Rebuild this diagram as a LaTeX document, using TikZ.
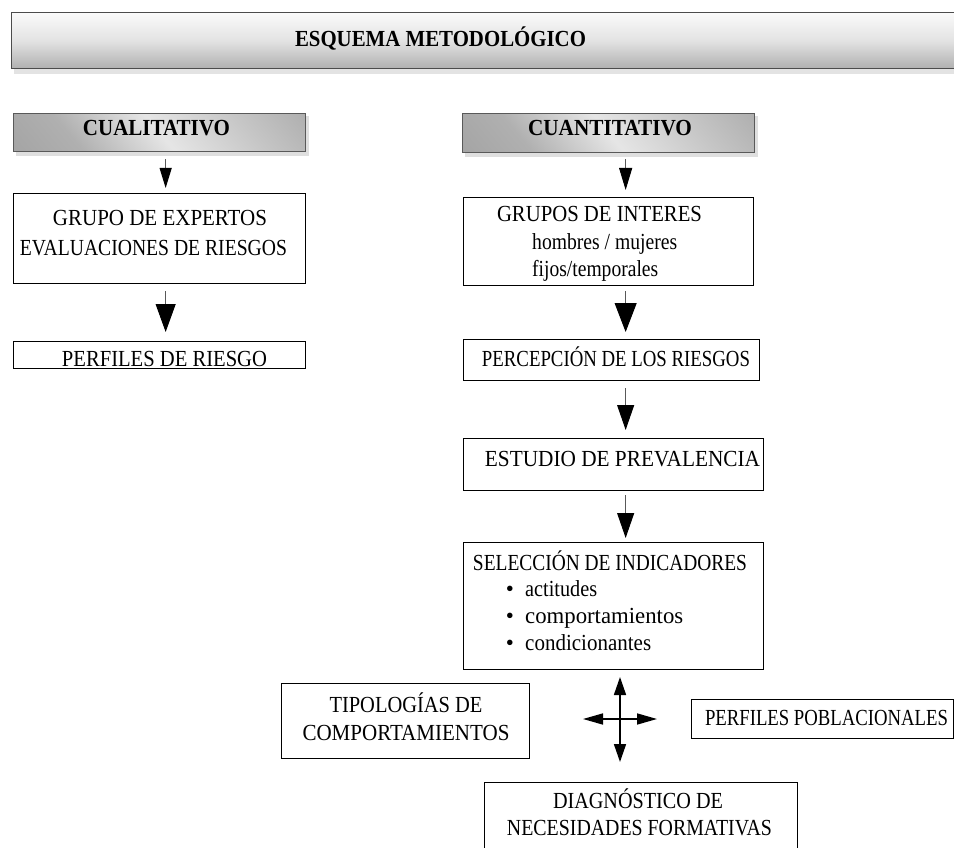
\documentclass[tikz,border=0pt]{standalone}
\usepackage{fontspec}
\setmainfont{Liberation Serif}
\usepackage{graphicx}
\usetikzlibrary{arrows.meta}
\pgfdeclarehorizontalshading{cbox}{100bp}{color(0bp)=(gray!80); color(30bp)=(gray!62); color(50bp)=(gray!20); color(70bp)=(gray!45); color(100bp)=(gray!80)}
\newcommand{\fitw}[2]{\resizebox{#1pt}{\height}{#2}}
\tikzset{
 bx/.style={draw=black, line width=1.3pt, inner sep=0pt, anchor=north west},
 hd/.style={draw=gray!70!black, line width=1.3pt, inner sep=0pt, anchor=north west, shading=cbox, shading angle=40},
 txt/.style={inner sep=0pt, anchor=base, font=\fontsize{23}{27}\selectfont},
 btxt/.style={inner sep=0pt, anchor=base, font=\fontsize{23}{27}\selectfont\bfseries},
 arr/.style={draw=black!65, line width=1pt},
 crs/.style={draw=black, line width=1.6pt},
 shd/.style={fill=gray!25, draw=none},
}
\begin{document}
\begin{tikzpicture}[x=1pt,y=-1pt]
\useasboundingbox (0,0) rectangle (954,848);
% title bar
\fill[gray!22] (14,68) rectangle (975,74);
\node[draw=gray!60!black, line width=1.3pt, inner sep=0pt, anchor=north west,
      top color=gray!4, bottom color=gray!62, middle color=gray!22,
      minimum width=960pt, minimum height=56pt] (bar) at (11,12) {};
\node[btxt] (ttl) at (440.5,46.5) {\fitw{291}{ESQUEMA METODOLÓGICO}};
% headers
\fill[shd] (16,116) rectangle (309,156);
\fill[shd] (465,116) rectangle (758,157);
\node[hd, minimum width=292pt, minimum height=38pt] (cual) at (13,113) {};
\node[hd, minimum width=292pt, minimum height=39pt] (cuan) at (462,113) {};
\node[btxt] (tcual) at (156.5,136) {\fitw{147}{CUALITATIVO}};
\node[btxt] (tcuan) at (610,136) {\fitw{164}{CUANTITATIVO}};
% left column
\node[bx, minimum width=292pt, minimum height=90pt] (exp) at (13,193) {};
\node[txt] (e1) at (160,225.5) {\fitw{214}{GRUPO DE EXPERTOS}};
\node[txt] (e2) at (153.5,255) {\fitw{267}{EVALUACIONES DE RIESGOS}};
\node[bx, minimum width=292pt, minimum height=27pt] (perf) at (13,341) {};
\node[txt] (p1) at (164.5,366) {\fitw{205}{PERFILES DE RIESGO}};
% right column
\node[bx, minimum width=290pt, minimum height=88pt] (grp) at (463,197) {};
\node[txt] (g1) at (599.5,221.5) {\fitw{205}{GRUPOS DE INTERES}};
\node[txt, anchor=base west] (g2) at (532,249) {\fitw{145}{hombres / mujeres}};
\node[txt, anchor=base west] (g3) at (532,276) {\fitw{126}{fijos/temporales}};
\node[bx, minimum width=296pt, minimum height=41pt] (perc) at (463,339) {};
\node[txt] (pc1) at (616,366) {\fitw{268}{PERCEPCIÓN DE LOS RIESGOS}};
\node[bx, minimum width=300pt, minimum height=52pt] (est) at (463,438) {};
\node[txt] (es1) at (622.5,466) {\fitw{275}{ESTUDIO DE PREVALENCIA}};
\node[bx, minimum width=300pt, minimum height=127pt] (sel) at (463,542) {};
\node[txt] (s1) at (610,570) {\fitw{274}{SELECCIÓN DE INDICADORES}};
\node[txt] (b1) at (510,596.7) {•};
\node[txt] (b2) at (510,623) {•};
\node[txt] (b3) at (510,650) {•};
\node[txt, anchor=base west] (s2) at (525,596.7) {\fitw{72}{actitudes}};
\node[txt, anchor=base west] (s3) at (525,623) {\fitw{158}{comportamientos}};
\node[txt, anchor=base west] (s4) at (525,650) {\fitw{126}{condicionantes}};
% bottom
\node[bx, minimum width=248pt, minimum height=75pt] (tip) at (281,683) {};
\node[txt] (t1) at (406,712.5) {\fitw{153}{TIPOLOGÍAS DE}};
\node[txt] (t2) at (406,740) {\fitw{207}{COMPORTAMIENTOS}};
\node[bx, minimum width=262pt, minimum height=39pt] (pob) at (691,699) {};
\node[txt] (pp) at (826.5,725) {\fitw{243}{PERFILES POBLACIONALES}};
\node[bx, minimum width=313pt, minimum height=90pt] (diag) at (484,782) {};
\node[txt] (d1) at (638,808.5) {\fitw{170}{DIAGNÓSTICO DE}};
\node[txt] (d2) at (639.5,835) {\fitw{265}{NECESIDADES FORMATIVAS}};
% arrows
\draw[arr, -{Triangle[length=20pt,width=12pt,color=black,fill=black]}] ([xshift=6pt,yshift=-7pt]cual.south) -- ([xshift=6pt,yshift=5pt]exp.north);
\draw[arr, -{Triangle[length=28pt,width=20pt,color=black,fill=black]}] ([xshift=6pt,yshift=-7pt]exp.south) -- ([xshift=6pt,yshift=9pt]perf.north);
\draw[arr, -{Triangle[length=22pt,width=13pt,color=black,fill=black]}] ([xshift=17pt,yshift=-6pt]cuan.south) -- ([xshift=17pt,yshift=7pt]grp.north);
\draw[arr, -{Triangle[length=29pt,width=22pt,color=black,fill=black]}] ([xshift=17pt,yshift=-5pt]grp.south) -- ([xshift=14pt,yshift=7pt]perc.north);
\draw[arr, -{Triangle[length=25pt,width=17pt,color=black,fill=black]}] ([xshift=14pt,yshift=-7pt]perc.south) -- ([xshift=12pt,yshift=8pt]est.north);
\draw[arr, -{Triangle[length=25pt,width=17pt,color=black,fill=black]}] ([xshift=12pt,yshift=-4pt]est.south) -- ([xshift=12pt,yshift=4pt]sel.north);
% cross
\coordinate (cx) at (620,719);
\coordinate (cu) at (620,677);
\coordinate (cd) at (620,762);
\coordinate (cl) at (583,719);
\coordinate (cr) at (657,719);
\draw[crs, -{Triangle[length=18pt,width=12pt]}] (cx) -- (cu);
\draw[crs, -{Triangle[length=18pt,width=12pt]}] (cx) -- (cd);
\draw[crs, -{Triangle[length=20pt,width=11pt]}] (cx) -- (cl);
\draw[crs, -{Triangle[length=20pt,width=11pt]}] (cx) -- (cr);
\end{tikzpicture}
\end{document}
